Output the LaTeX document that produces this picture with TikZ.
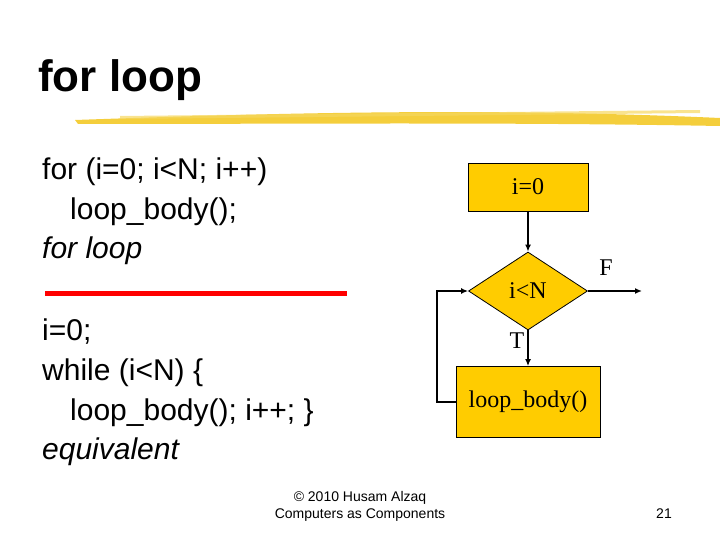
\documentclass[tikz,border=0pt]{standalone}
\usepackage{fontspec}
\setmainfont{Liberation Sans}
\newfontfamily\seriff{Liberation Serif}
\usetikzlibrary{shapes.geometric,arrows.meta}
\definecolor{fy}{HTML}{FFCC00}
\definecolor{brush}{HTML}{F2C61A}
\begin{document}
\begin{tikzpicture}[x=1pt,y=-1pt,
  fbox/.style={draw,fill=fy,line width=0.8pt,inner sep=0pt},
  conn/.style={line width=1.5pt,-{Latex[length=7pt,width=6pt]}},
  txt/.style={anchor=west,inner sep=0pt,font=\fontsize{30}{34}\selectfont}]
\useasboundingbox (0,0) rectangle (720,540);
\node[anchor=west,inner sep=0pt,font=\fontsize{44}{48}\selectfont\bfseries] (title) at (38,80) {for loop};
\fill[brush,opacity=0.85] (75,120) .. controls (300,112) and (500,108) .. (720,118) -- (720,126) .. controls (500,122) and (300,124) .. (78,124) -- cycle;
\fill[brush!70,opacity=0.7] (120,116) -- (700,110) -- (700,113) -- (120,119) -- cycle;
\node[txt] (l1) at (42,172) {for (i=0; i<N; i++)};
\node[txt] (l2) at (70,212) {loop\_body();};
\node[txt,font=\fontsize{30}{34}\selectfont\itshape] (l3) at (42,251) {for loop};
\draw[red,line width=5pt] (45,293) -- (347,293);
\node[txt] (l4) at (42,332) {i=0;};
\node[txt] (l5) at (42,373) {while (i<N) \{};
\node[txt] (l6) at (70,413) {loop\_body(); i++; \}};
\node[txt,font=\fontsize{30}{34}\selectfont\itshape] (l7) at (42,452) {equivalent};
\node[fbox,minimum width=120pt,minimum height=48pt,font=\seriff\fontsize{24}{28}\selectfont] (init) at (528,187) {i=0};
\node[fbox,diamond,aspect=1.52,minimum width=119pt,minimum height=78pt,font=\seriff\fontsize{24}{28}\selectfont] (cond) at (528,291) {i<N};
\node[fbox,minimum width=144pt,minimum height=71pt,font=\seriff\fontsize{24}{28}\selectfont] (body) at (528,402) {loop\_body()};
\coordinate (out) at (642,291);
\coordinate (lb) at (437,402);
\coordinate (lt) at (437,291);
\draw[conn] (init) -- (cond.north);
\draw[conn] (cond.east) -- (out);
\draw[conn] (cond.south) -- (body.north);
\draw[conn] (body.west) -- (lb) -- (lt) -- (cond.west);
\node[font=\seriff\fontsize{24}{28}\selectfont] (F) at (606,268) {F};
\node[font=\seriff\fontsize{24}{28}\selectfont] (T) at (517,341) {T};
\node[font=\fontsize{14}{17}\selectfont,align=center] (foot) at (360,506) {© 2010 Husam Alzaq\\Computers as Components};
\node[font=\fontsize{14}{17}\selectfont] (pg) at (664,514) {21};
\end{tikzpicture}
\end{document}
